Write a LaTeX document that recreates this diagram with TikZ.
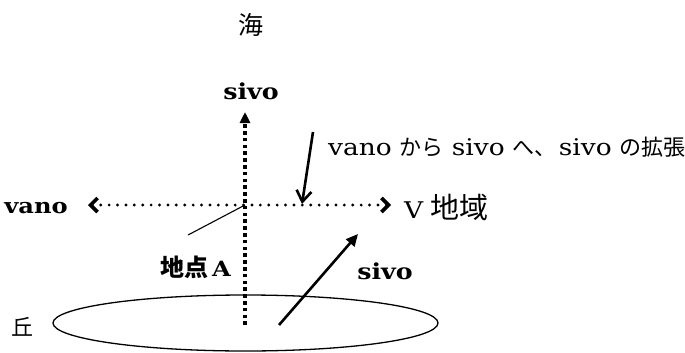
\documentclass[tikz,border=0pt]{standalone}
\usepackage{fontspec}
\setmainfont{DejaVu Serif}[FakeStretch=1.15]
\newfontfamily\jp{Noto Sans CJK JP}
\usetikzlibrary{arrows.meta}
\begin{document}
\begin{tikzpicture}[x=1pt,y=-1pt,
  txt/.style={inner sep=0pt, font=\fontsize{23}{27}\selectfont},
  boldlbl/.style={inner sep=0pt, font=\fontsize{22}{26}\selectfont\bfseries},
  vdots/.style={line width=3.6pt, dash pattern=on 3.6pt off 3.2pt, -{Triangle[length=11pt,width=10pt]}},
  hdots/.style={line width=3.2pt, line cap=round, dash pattern=on 0pt off 8.4pt,
     {Straight Barb[length=7pt,width=14pt,line width=3.6pt,line cap=butt]}-{Straight Barb[length=7pt,width=14pt,line width=3.6pt,line cap=butt]}},
  solidarrow/.style={line width=2.6pt, -{Triangle[length=12pt,width=11pt]}},
  barbarrow/.style={line width=2.6pt, -{Straight Barb[length=11pt,width=15pt,line width=2.6pt]}},
  thinline/.style={line width=1.1pt},
  hill/.style={line width=1.3pt}
]
\useasboundingbox (0,0) rectangle (685,353);

% texts
\node[txt] (sea) at (251,25) {\jp\fontsize{25}{28}\selectfont 海};
\node[boldlbl] (sivotop) at (251,91) {sivo};
\node[boldlbl, font=\fontsize{21}{25}\selectfont\bfseries] (vano) at (36,208) {vano};
\node[txt, anchor=west] (vregion) at (404,207) {\fontsize{23}{27}\selectfont V\hspace{7pt}{\jp\fontsize{29}{32}\selectfont 地域}};
\node[txt, anchor=west] (expand) at (328,147) {vano\hspace{8pt}{\jp\fontsize{22}{26}\selectfont から}\hspace{8pt}sivo\hspace{8pt}{\jp\fontsize{22}{26}\selectfont へ、}\hspace{2pt}sivo\hspace{8pt}{\jp\fontsize{22}{26}\selectfont の拡張}};
\node[inner sep=0pt, anchor=east, font=\fontsize{21}{25}\selectfont\bfseries] (pointA) at (231,267) {{\jp\fontsize{24}{27}\selectfont 地点}\hspace{4pt}A};
\node[boldlbl] (sivoright) at (385,271) {sivo};
\node[txt] (hilltxt) at (22,327) {\jp\fontsize{22}{26}\selectfont 丘};

% hill
\draw[hill] (245.5,323) ellipse [x radius=192.5pt, y radius=28pt];

% coordinates
\coordinate (vbot) at (245,325);
\coordinate (vtop) at (245,112);
\coordinate (hleft) at (88,205);
\coordinate (hright) at (391,205);
\coordinate (cross) at (245,205);
\coordinate (thinend) at (188,235);
\coordinate (shortstart) at (313,132);
\coordinate (shortend) at (302,204);
\coordinate (sivostart) at (279,325);
\coordinate (sivoend) at (358,234);

% connectors
\draw[vdots] (vbot) -- (vtop);
\draw[hdots] (hleft) -- (hright);
\draw[thinline] (cross) -- (thinend);
\draw[barbarrow] (shortstart) -- (shortend);
\draw[solidarrow] (sivostart) -- (sivoend);
\end{tikzpicture}
\end{document}
